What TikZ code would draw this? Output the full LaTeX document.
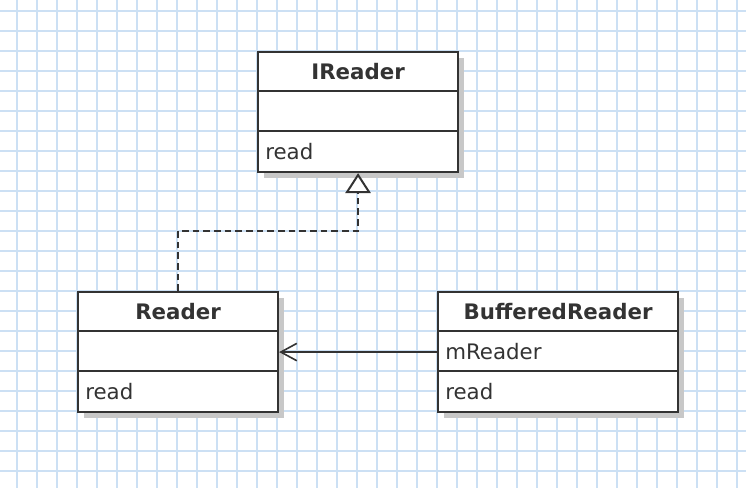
\documentclass[tikz,border=0pt]{standalone}
\usepackage{fontspec}
\setmainfont{DejaVu Sans}
\usetikzlibrary{arrows.meta,calc,shadows}
\definecolor{gridc}{RGB}{204,224,244}
\definecolor{ink}{RGB}{51,51,51}
\definecolor{shade}{RGB}{200,200,200}
\begin{document}
\begin{tikzpicture}[x=0.75pt,y=-0.75pt,
  umlbox/.style={draw=ink, line width=1.6pt, fill=white, minimum width=150pt, minimum height=90pt,
    anchor=north west, inner sep=0pt,
    general shadow={fill=shade, shadow xshift=4.5pt, shadow yshift=-4.5pt}},
  divider/.style={draw=ink, line width=1.6pt},
  titletext/.style={anchor=base, inner sep=0pt, text=ink, font=\fontsize{16pt}{19pt}\selectfont\bfseries},
  membertext/.style={anchor=base west, inner sep=0pt, text=ink, font=\fontsize{16pt}{19pt}\selectfont},
  gridline/.style={draw=gridc, line width=1.5pt}]
\fill[white] (0,0) rectangle (746,488);
\useasboundingbox (0,0) rectangle (746,488);
\foreach \x in {17,37,...,737} \draw[gridline] (\x,0) -- (\x,488);
\foreach \y in {11,31,...,471} \draw[gridline] (0,\y) -- (746,\y);

% boxes
\node[umlbox] (ireader) at (257,51) {};
\node[umlbox] (reader) at (77,291) {};
\node[umlbox, minimum width=180pt] (buffered) at (437,291) {};

\foreach \b in {ireader,reader,buffered}{
  \draw[divider] ($(\b.north west)+(0,40)$) -- ($(\b.north east)+(0,40)$);
  \draw[divider] ($(\b.north west)+(0,80)$) -- ($(\b.north east)+(0,80)$);
}

% texts
\node[titletext] (ireadername) at ($(ireader.north)+(0,28.5)$) {IReader};
\node[membertext] (ireaderop) at ($(ireader.north west)+(8,108.5)$) {read};
\node[titletext] (readername) at ($(reader.north)+(0,28.5)$) {Reader};
\node[membertext] (readerop) at ($(reader.north west)+(8,108.5)$) {read};
\node[titletext] (bufferedname) at ($(buffered.north)+(0,28.5)$) {BufferedReader};
\node[membertext] (bufferedattr) at ($(buffered.north west)+(8,68.5)$) {mReader};
\node[membertext] (bufferedop) at ($(buffered.north west)+(8,108.5)$) {read};

% realization
\draw[ink, line width=1.5pt, dash pattern=on 5pt off 3pt,
  -{Triangle[fill=white, length=15pt, width=19pt, line width=1.5pt]}]
  (reader.north) -- ++(0,-60) -| (ireader.south);

% association
\draw[ink, line width=1.2pt, -{Straight Barb[length=12pt, width=13pt, line width=1.2pt]}]
  (buffered.west) -- (reader.east);
\end{tikzpicture}
\end{document}
